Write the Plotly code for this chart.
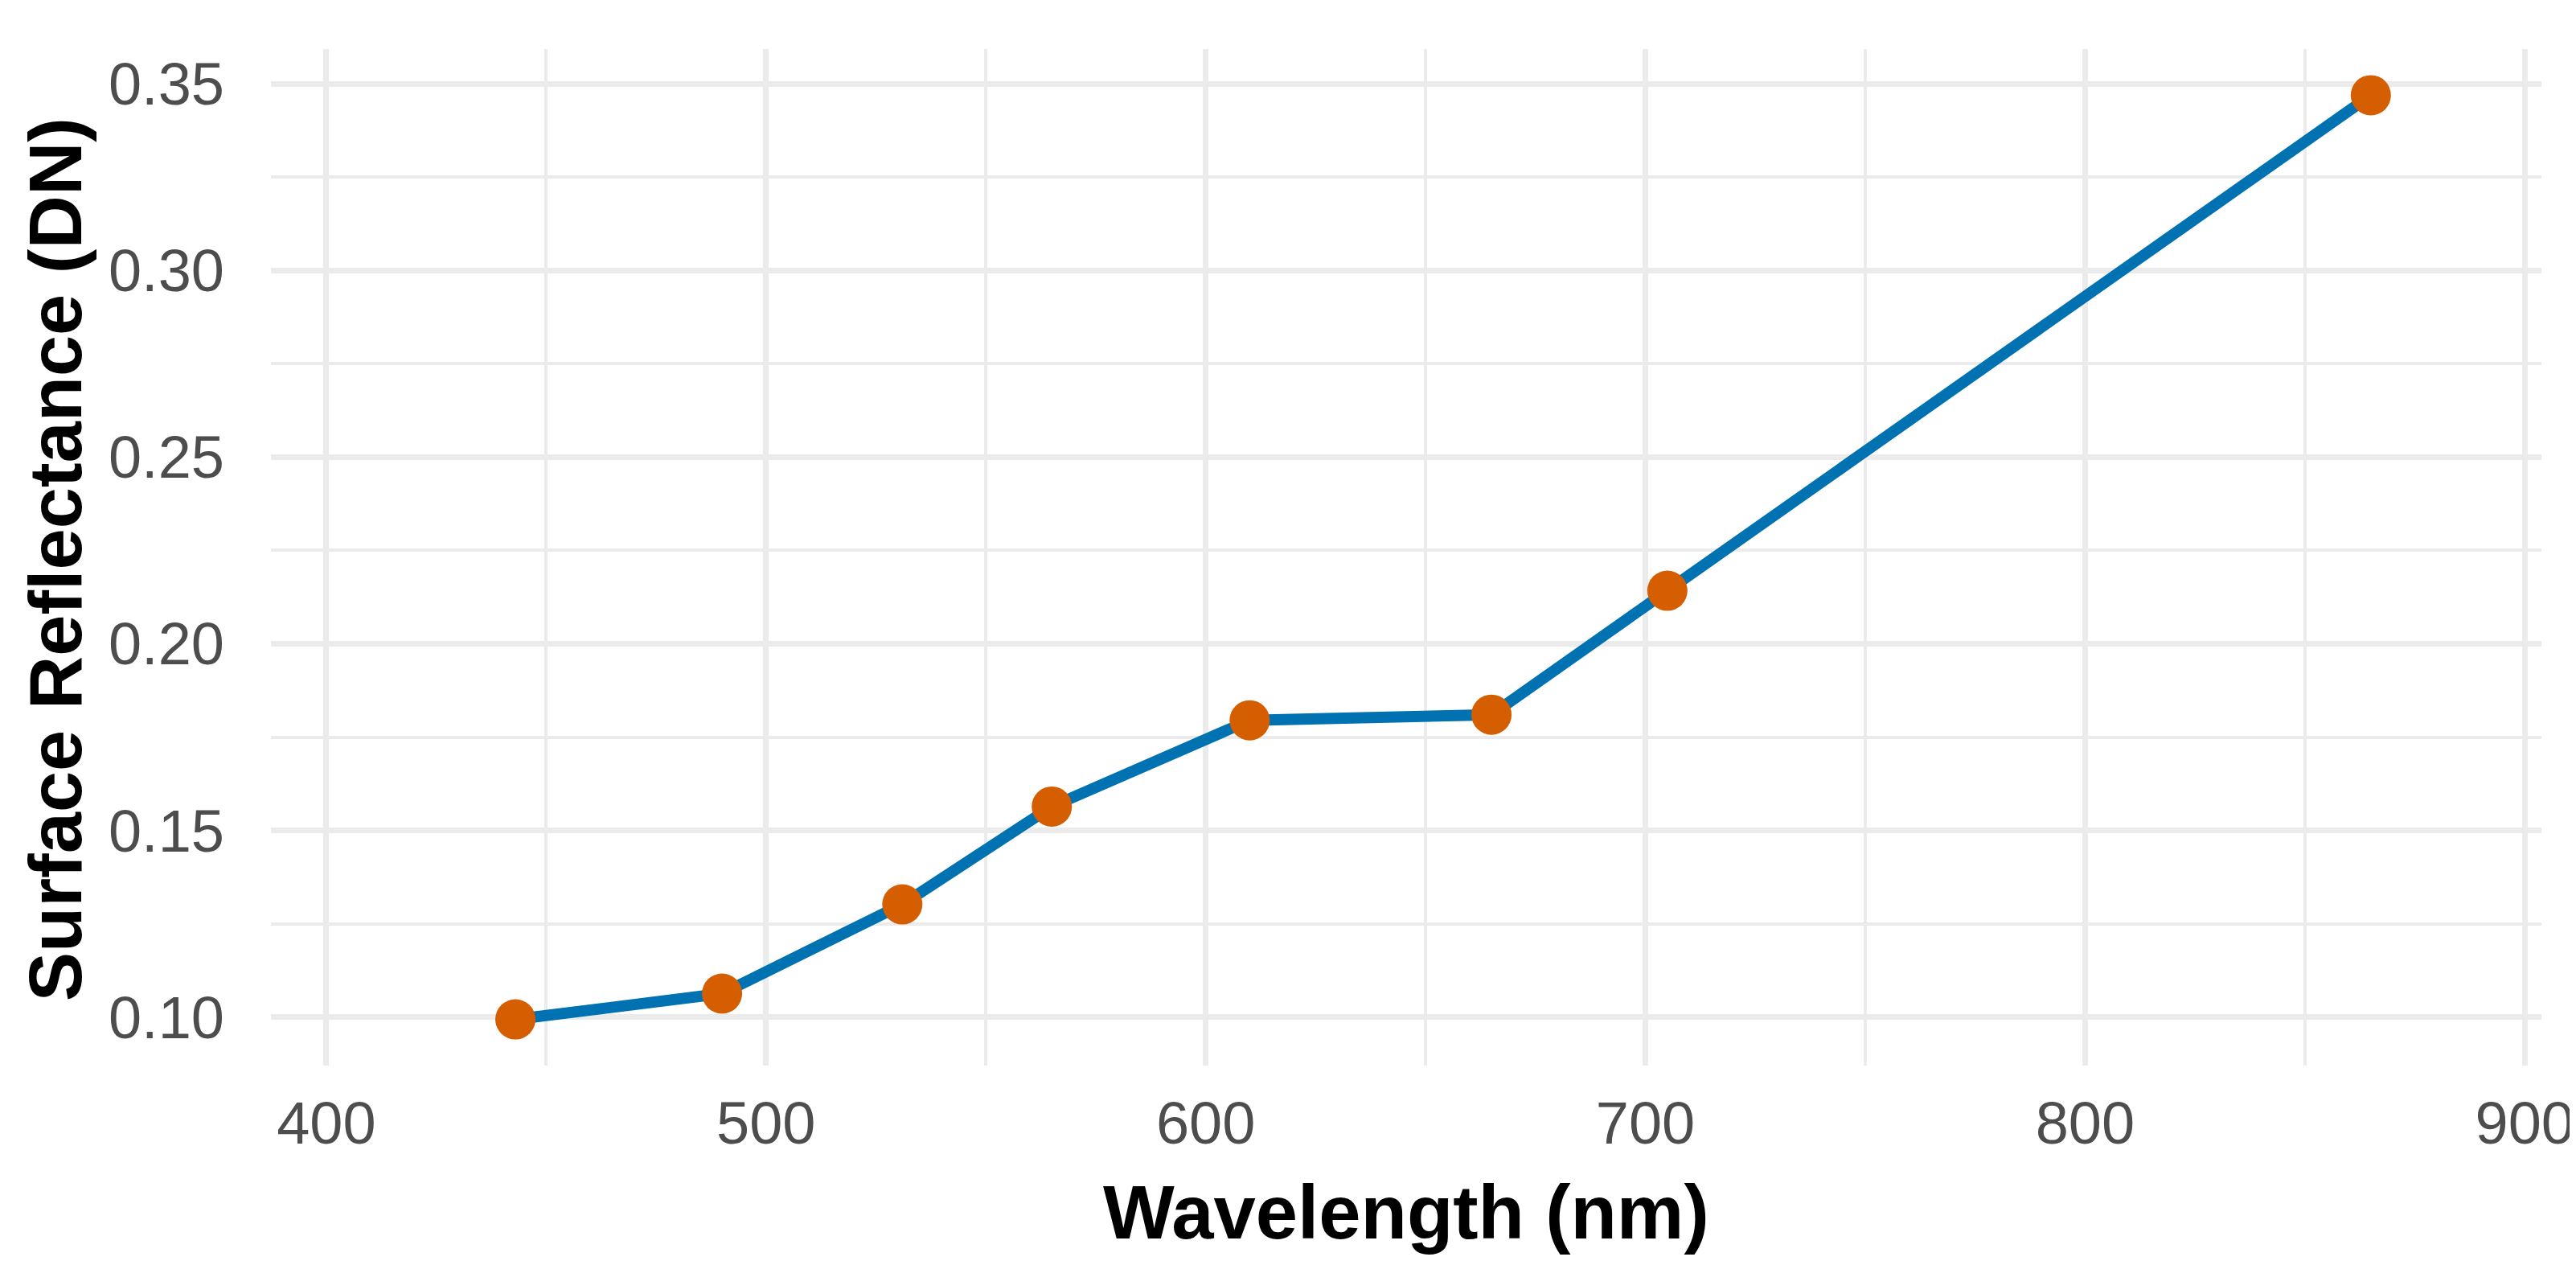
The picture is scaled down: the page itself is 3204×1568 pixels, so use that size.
import plotly.graph_objects as go

# spectral profile
wavelength_nm = [443, 490, 531, 565, 610, 665, 705, 865]
reflectance = [0.0994, 0.1063, 0.1302, 0.1564, 0.1795, 0.1810, 0.2142, 0.3469]

x_ticks = [400, 500, 600, 700, 800, 900]
y_ticks = [0.10, 0.15, 0.20, 0.25, 0.30, 0.35]

LINE_COLOR = "#0072B2"
POINT_COLOR = "#D55E00"
GRID = "#EBEBEB"

# ggplot-style 5% padding on y
y_span = max(reflectance) - min(reflectance)
y_range = [min(reflectance) - 0.05 * y_span, max(reflectance) + 0.05 * y_span]

fig = go.Figure(
    data=[
        go.Scatter(
            x=wavelength_nm,
            y=reflectance,
            mode="lines+markers",
            line=dict(color=LINE_COLOR, width=14),
            marker=dict(color=POINT_COLOR, size=50, line=dict(width=0)),
            showlegend=False,
        )
    ]
)

axis_common = dict(
    showline=False,
    zeroline=False,
    ticks="",
    gridcolor=GRID,
    gridwidth=7,
    tickfont=dict(family="Liberation Sans, Arial, sans-serif", size=74, color="#4D4D4D"),
)

fig.update_layout(
    width=3204,
    height=1568,
    margin=dict(l=329, r=51, t=53, b=251, autoexpand=False),
    paper_bgcolor="white",
    plot_bgcolor="white",
    font=dict(family="Liberation Sans, Arial, sans-serif"),
    xaxis=dict(
        axis_common,
        range=[387.4, 903.8],
        tickvals=x_ticks,
        ticklabelstandoff=22,
        minor=dict(dtick=50, tick0=0, showgrid=True, gridcolor=GRID, gridwidth=4),
    ),
    yaxis=dict(
        axis_common,
        range=y_range,
        tickvals=y_ticks,
        tickformat=".2f",
        ticklabelstandoff=57,
        minor=dict(dtick=0.025, tick0=0, showgrid=True, gridcolor=GRID, gridwidth=4),
    ),
)

# axis titles as annotations so they sit where the reference puts them
fig.add_annotation(
    text="<b>Wavelength (nm)</b>",
    xref="paper",
    yref="paper",
    x=0.5,
    y=-0.144,
    xanchor="center",
    yanchor="middle",
    showarrow=False,
    font=dict(size=94, color="black"),
)
fig.add_annotation(
    text="<b>Surface Reflectance (DN)</b>",
    xref="paper",
    yref="paper",
    x=-0.095,
    y=0.498,
    xanchor="center",
    yanchor="middle",
    textangle=-90,
    showarrow=False,
    font=dict(size=92, color="black"),
)

fig.write_html("out.html")
